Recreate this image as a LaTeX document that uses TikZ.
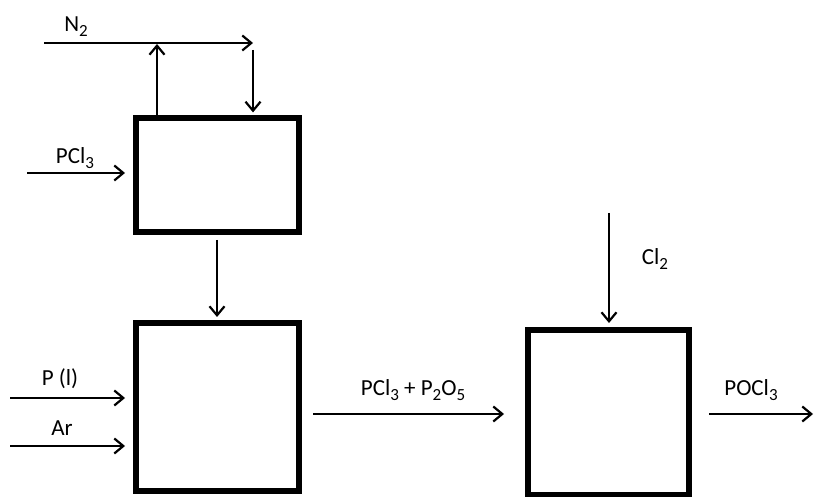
\documentclass[tikz,border=0pt]{standalone}
\usepackage{fontspec}
\setmainfont{Carlito}
\usetikzlibrary{arrows.meta}
\newcommand{\lowsub}[1]{\raisebox{-0.45ex}{\fontsize{8.5}{9}\selectfont #1}}
\begin{document}
\begin{tikzpicture}[x=0.5pt,y=-0.5pt,
  unitbox/.style={draw, line width=2.8pt, minimum width=#1, inner sep=0pt},
  flow/.style={line width=1.05pt, -{Straight Barb[length=4.5pt,width=7.5pt,line width=1.1pt]}},
  lbl/.style={font=\fontsize{11.5}{13}\selectfont, inner sep=0pt}]
\useasboundingbox (0,0) rectangle (814,497);
% boxes
\node[unitbox=81.5pt, minimum height=57pt] (b1) at (217.5,175) {};
\node[unitbox=81.5pt, minimum height=84pt] (b2) at (217.5,407) {};
\node[unitbox=80.5pt, minimum height=82.5pt] (b3) at (608.5,412.5) {};
% coordinates
\coordinate (n2s) at (44,43);
\coordinate (n2e) at (253,43);
\coordinate (up) at (157,44);
\coordinate (dn) at (253,50);
\coordinate (pcls) at (27,173);
\coordinate (pcle) at (125,173);
\coordinate (m1s) at (217,240);
\coordinate (m1e) at (217,317);
\coordinate (pls) at (10,398);
\coordinate (ple) at (125,398);
\coordinate (ars) at (10,446);
\coordinate (are) at (125,446);
\coordinate (mids) at (313,414);
\coordinate (mide) at (504,414);
\coordinate (outs) at (709,414);
\coordinate (oute) at (813,414);
\coordinate (cls) at (609,213);
\coordinate (cle) at (609,323);
% arrows
\draw[flow] (n2s) -- (n2e);
\draw[flow] (b1.north -| up) -- (up);
\draw[flow] (dn) -- ([yshift=1.4pt]b1.north -| dn);
\draw[flow] (pcls) -- (pcle);
\draw[flow] (m1s) -- (m1e);
\draw[flow] (pls) -- (ple);
\draw[flow] (ars) -- (are);
\draw[flow] (mids) -- (mide);
\draw[flow] (outs) -- (oute);
\draw[flow] (cls) -- (cle);
% labels
\node[lbl] (ln2) at (76,27) {N\lowsub{2}};
\node[lbl] (lpcl) at (75,158) {PCl\lowsub{3}};
\node[lbl] (lpl) at (60,379) {P (l)};
\node[lbl] (lar) at (62,428) {Ar};
\node[lbl] (lcl) at (655,259) {Cl\lowsub{2}};
\node[lbl] (lmid) at (413,390) {PCl\lowsub{3} + P\lowsub{2}O\lowsub{5}};
\node[lbl] (lout) at (751,390) {POCl\lowsub{3}};
\end{tikzpicture}
\end{document}
